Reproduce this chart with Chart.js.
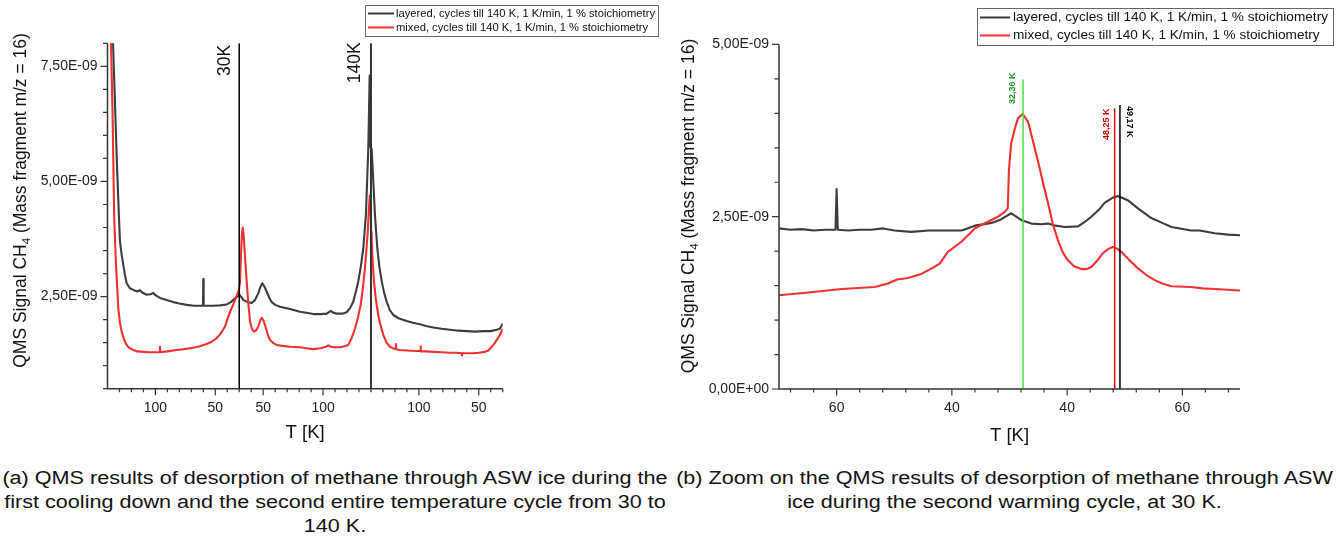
<!DOCTYPE html>
<html lang="en">
<head>
<meta charset="UTF-8" />
<title>QMS desorption of methane through ASW ice</title>
<script src="https://cdn.jsdelivr.net/npm/chart.js@4.4.1/dist/chart.umd.min.js"></script>
<style>
  body { margin: 0; background: #fff; width: 1337px; height: 539px; position: relative; overflow: hidden;
         font-family: "Liberation Sans", Arial, sans-serif; }
  #leftChart { position: absolute; left: 0; top: 0; }
  #rightChart { position: absolute; left: 670px; top: 0; }
  .caption { position: absolute; top: 466px; font-size: 18px; line-height: 24px; text-align: center; color: #111;
             transform: scaleX(1.2); transform-origin: center top; }
  #capA { left: 0; width: 670px; }
  #capB { left: 672px; width: 665px; }
</style>
</head>
<body>
<canvas id="leftChart" width="670" height="450"></canvas>
<canvas id="rightChart" width="667" height="450"></canvas>
<div class="caption" id="capA">(a) QMS results of desorption of methane through ASW ice during the<br>first cooling down and the second entire temperature cycle from 30 to<br>140 K.</div>
<div class="caption" id="capB">(b) Zoom on the QMS results of desorption of methane through ASW<br>ice during the second warming cycle, at 30 K.</div>

<script>
// x is the temperature path walked along the run (K travelled), y in units of 1E-09
const seriesNames = [
  "layered, cycles till 140 K, 1 K/min, 1 % stoichiometry",
  "mixed, cycles till 140 K, 1 K/min, 1 % stoichiometry",
];

// (a) cooling 140 -> 30 K, warming 30 -> 140 K, cooling 140 -> 30 K
const aLayeredX = [
  4, 6, 8, 9.6, 10.4, 12, 13.2, 14.5, 16, 18.8,
  22, 25, 27, 29, 32.7, 36, 38.2, 40, 43.8, 50,
  54.9, 60, 66.1, 72, 77, 79.7, 80, 80.3, 84, 88.3,
  94, 99.5, 103, 106, 108.5, 110, 111.5, 113.4, 117, 120.4,
  123, 125.9, 127.5, 129.3, 131, 132.9, 135, 137.1, 140, 144,
  152.4, 160.7, 166, 171.8, 178, 183, 186.4, 188.5, 191.4, 196,
  199.7, 202.5, 205.2, 207.5, 209.4, 211.5, 213.6, 215.8, 217.8, 218.9,
  219.6, 220.6, 223.4, 225.3, 227, 229, 231, 233.1, 235.5, 238.6,
  243, 249.8, 255, 260.9, 266, 272, 279, 286, 293, 300,
  307, 313.8, 320, 325, 327.5, 329.2, 330,
];
const aLayeredY = [
  8.5, 6.9, 5.3, 4.2, 3.7, 3.38, 3.19, 2.98, 2.79, 2.68,
  2.64, 2.61, 2.64, 2.59, 2.54, 2.55, 2.58, 2.53, 2.47, 2.42,
  2.38, 2.35, 2.32, 2.3, 2.3, 2.3, 2.88, 2.3, 2.3, 2.3,
  2.31, 2.33, 2.38, 2.45, 2.5, 2.55, 2.5, 2.43, 2.38, 2.36,
  2.42, 2.57, 2.7, 2.79, 2.72, 2.61, 2.48, 2.38, 2.32, 2.28,
  2.23, 2.17, 2.15, 2.12, 2.12, 2.13, 2.19, 2.15, 2.13, 2.13,
  2.16, 2.25, 2.39, 2.62, 2.83, 3.15, 3.55, 4.28, 5.75, 7.3,
  5.75, 5.7, 4.25, 3.55, 3.15, 2.83, 2.58, 2.39, 2.22, 2.1,
  2.03, 1.97, 1.93, 1.9, 1.86, 1.83, 1.8, 1.78, 1.76, 1.75,
  1.74, 1.75, 1.75, 1.78, 1.8, 1.87, 1.92,
];
const aMixedX = [
  2.5, 4.2, 5.6, 7.1, 9, 10.3, 11.8, 14, 16, 18.5,
  21.5, 25, 29.9, 35, 40, 43.5, 43.8, 44.1, 50, 57.8,
  64, 71.6, 77, 82.8, 87, 91.2, 94, 96, 98.1, 100.3,
  102.3, 104.5, 106.5, 108.3, 109.8, 110.6, 111.3, 112.2, 112.9, 113.8,
  115, 116.2, 117.6, 119, 120.6, 122.3, 124.2, 125.9, 127.5, 128.8,
  130.4, 132.4, 134, 135.7, 138.5, 141.3, 146, 152.4, 160.7, 166,
  171.8, 178, 182.5, 184.4, 186.5, 190, 194.1, 198, 201, 203,
  205, 206.7, 209, 211.4, 213.3, 215, 216.3, 217.3, 218.3, 219,
  219.8, 220.2, 220.6, 221.5, 222.5, 224.2, 226.1, 228, 230.3, 233,
  235.9, 239, 240.7, 240.9, 241.1, 244.2, 250, 258.2, 261.3, 261.5,
  261.7, 266, 272, 279, 286, 291, 295.8, 296, 296.2, 300,
  305.4, 310, 315.2, 318, 320.8, 323, 325, 327.5, 330,
];
const aMixedY = [
  8.5, 6.5, 4.2, 3.19, 2.25, 1.95, 1.74, 1.56, 1.45, 1.38,
  1.34, 1.31, 1.3, 1.29, 1.29, 1.29, 1.41, 1.29, 1.31, 1.34,
  1.36, 1.39, 1.42, 1.47, 1.52, 1.6, 1.68, 1.76, 1.85, 2.02,
  2.17, 2.3, 2.43, 2.55, 2.65, 2.8, 3.3, 3.85, 4.0, 3.8,
  3.3, 2.83, 2.35, 1.96, 1.8, 1.74, 1.77, 1.85, 1.98, 2.04,
  1.97, 1.81, 1.66, 1.56, 1.49, 1.45, 1.43, 1.41, 1.4, 1.38,
  1.36, 1.38, 1.41, 1.44, 1.41, 1.4, 1.4, 1.42, 1.45, 1.55,
  1.68, 1.81, 2.03, 2.32, 2.7, 3.12, 3.55, 3.91, 4.4, 4.7,
  4.4, 3.9, 3.7, 3.25, 2.83, 2.42, 2.1, 1.88, 1.67, 1.5,
  1.41, 1.37, 1.36, 1.47, 1.35, 1.34, 1.33, 1.32, 1.32, 1.42,
  1.31, 1.31, 1.3, 1.29, 1.28, 1.28, 1.27, 1.22, 1.27, 1.27,
  1.27, 1.28, 1.3, 1.33, 1.41, 1.48, 1.56, 1.66, 1.8,
];
const aTickX = [40, 90, 130, 180, 260, 310];
const aTickLabels = ["100", "50", "50", "100", "100", "50"];
const aTickY = [2.5, 5.0, 7.5];
const aMarkerX = [110, 220];
const aMarkerLabels = ["30K", "140K"];

// (b) cooling 70 -> 30 K then warming 30 -> 70 K
const bLayeredX = [
  0, 2, 4, 6, 8, 9.8, 10, 10.2, 12, 14,
  16, 18.1, 20, 23, 26, 29, 31.7, 34, 36.9, 38.5,
  40.3, 42.1, 43.8, 45.5, 46.7, 48, 49.6, 51.9, 53, 54.2,
  55.5, 56.5, 57.8, 58.8, 60.5, 62.3, 64.6, 66.5, 68.1, 71.5,
  73, 75.6, 78, 80,
];
const bLayeredY = [
  2.33, 2.31, 2.32, 2.3, 2.31, 2.31, 2.9, 2.31, 2.3, 2.31,
  2.31, 2.33, 2.3, 2.28, 2.3, 2.3, 2.3, 2.37, 2.41, 2.46,
  2.55, 2.45, 2.4, 2.39, 2.4, 2.37, 2.35, 2.36, 2.42, 2.5,
  2.6, 2.7, 2.77, 2.8, 2.74, 2.62, 2.48, 2.41, 2.35, 2.3,
  2.3, 2.26, 2.24, 2.23,
];
const bMixedX = [
  0, 5.1, 10.9, 16.6, 18.9, 20.5, 22.4, 24.7, 26.5, 27.9,
  29.3, 31.7, 34, 36.3, 38, 39.2, 39.7, 39.9, 40.3, 41,
  41.5, 42.3, 43.2, 44, 44.9, 45.8, 46.7, 47.5, 48.4, 49.2,
  50.1, 51.2, 52.5, 53.4, 54.2, 55.2, 56.2, 57.1, 57.9, 58.6,
  59.4, 60.8, 62.3, 63.8, 65.2, 66.5, 68.1, 71.5, 73.5, 75.6,
  80,
];
const bMixedY = [
  1.36, 1.4, 1.45, 1.48, 1.53, 1.59, 1.61, 1.67, 1.75, 1.82,
  1.99, 2.14, 2.33, 2.43, 2.5, 2.57, 2.62, 3.18, 3.57, 3.8,
  3.93, 3.99, 3.88, 3.62, 3.32, 3.0, 2.69, 2.4, 2.16, 1.99,
  1.87, 1.78, 1.74, 1.74, 1.77, 1.86, 1.97, 2.03, 2.06, 2.04,
  1.99, 1.87, 1.75, 1.65, 1.58, 1.53, 1.49, 1.48, 1.46, 1.45,
  1.43,
];
const bTickX = [10, 30, 50, 70];
const bTickLabels = ["60", "40", "40", "60"];
const bTickY = [0, 2.5, 5.0];
const bMarkerX = [42.36, 58.25, 59.17];
const bMarkerTop = [4.49, 4.07, 4.12];
const bMarkerLabels = ["32,36 K", "48,25 K", "49,17 K"];

const FONT = '"Liberation Sans", Arial, sans-serif';
const AXIS = "#333";
const GREY = "#3d3d3d";
const RED = "#ee3030";
Chart.defaults.font.family = FONT;
Chart.defaults.color = "#222";

function range(from, to, step) {
  const out = [];
  for (let v = from; v <= to + 1e-9; v += step) out.push(+v.toFixed(3));
  return out;
}
const fmtE = (v) => (v === 0 ? "0,00E+00" : v.toFixed(2).replace(".", ",") + "E-09");
const pts = (xs, ys) => xs.map((x, i) => ({ x: x, y: ys[i] }));

// axes, tick marks, titles, legend and marker labels in the Origin look
function originPlugin(o) {
  return {
    id: "origin_" + o.name,
    afterDraw(chart) {
      const ctx = chart.ctx;
      const xs = chart.scales.x, ys = chart.scales.y, a = chart.chartArea;
      ctx.save();
      ctx.strokeStyle = AXIS;
      ctx.lineWidth = 1.5;
      ctx.beginPath();
      ctx.moveTo(a.left, a.top);
      ctx.lineTo(a.left, a.bottom);
      ctx.lineTo(a.right, a.bottom);
      ctx.stroke();

      ctx.lineWidth = 1.2;
      ctx.beginPath();
      const tx = (list, len) => list.forEach((v) => {
        const p = xs.getPixelForValue(v);
        ctx.moveTo(p, a.bottom); ctx.lineTo(p, a.bottom + len);
      });
      const ty = (list, len) => list.forEach((v) => {
        const p = ys.getPixelForValue(v);
        ctx.moveTo(a.left, p); ctx.lineTo(a.left - len, p);
      });
      tx(o.xMinor, 3.5); tx(o.xMajor, 6.5);
      ty(o.yMinor, 4.5); ty(o.yMajor, 7);
      ctx.stroke();

      // y title with subscript 4
      ctx.save();
      ctx.translate(o.yTitle[0], o.yTitle[1]);
      ctx.rotate(-Math.PI / 2);
      ctx.fillStyle = "#111";
      ctx.textAlign = "left";
      ctx.textBaseline = "alphabetic";
      const big = "17.5px " + FONT, small = "11.5px " + FONT;
      const p1 = "QMS Signal CH", p2 = "4", p3 = " (Mass fragment m/z = 16)";
      ctx.font = big;
      const w1 = ctx.measureText(p1).width, w3 = ctx.measureText(p3).width;
      ctx.font = small;
      const w2 = ctx.measureText(p2).width;
      const sx = -(w1 + w2 + w3) / 2;
      ctx.font = big; ctx.fillText(p1, sx, 6);
      ctx.font = small; ctx.fillText(p2, sx + w1, 10);
      ctx.font = big; ctx.fillText(p3, sx + w1 + w2, 6);
      ctx.restore();

      // x title
      ctx.fillStyle = "#111";
      ctx.font = "18.5px " + FONT;
      ctx.textAlign = "center";
      ctx.textBaseline = "middle";
      ctx.fillText("T [K]", (a.left + a.right) / 2, o.xTitleY);

      // legend box, text stretched a little wider like the narrow-looking original
      const L = o.legend;
      ctx.fillStyle = "#fff";
      ctx.fillRect(L.x, L.y, L.w, L.h);
      ctx.strokeStyle = "#666";
      ctx.lineWidth = 1;
      ctx.strokeRect(L.x + 0.5, L.y + 0.5, L.w, L.h);
      const items = chart.data.datasets.filter((d) => d.inLegend);
      ctx.font = L.font;
      const k = L.textW / ctx.measureText(items[0].label).width;
      items.forEach((d, i) => {
        const yy = L.rows[i];
        ctx.strokeStyle = d.borderColor;
        ctx.lineWidth = 2;
        ctx.beginPath();
        ctx.moveTo(L.l0, yy); ctx.lineTo(L.l1, yy);
        ctx.stroke();
        ctx.save();
        ctx.translate(L.tx, yy + 0.5);
        ctx.scale(k, 1);
        ctx.fillStyle = "#111";
        ctx.textAlign = "left";
        ctx.textBaseline = "middle";
        ctx.fillText(d.label, 0, 0);
        ctx.restore();
      });

      // marker labels
      o.markers.forEach((m) => {
        ctx.save();
        ctx.translate(xs.getPixelForValue(m.x) + m.dx, ys.getPixelForValue(m.top) + m.dy);
        ctx.rotate(m.rot * Math.PI / 2);
        ctx.fillStyle = m.color;
        ctx.font = m.font;
        ctx.textAlign = m.rot < 0 ? "right" : "left";
        ctx.textBaseline = "middle";
        ctx.fillText(m.text, 0, 0);
        ctx.restore();
      });
      ctx.restore();
    },
  };
}

function series(label, xs, ys, color, order) {
  return { label: label, data: pts(xs, ys), borderColor: color, borderWidth: 2.1,
           pointRadius: 0, order: order, inLegend: true };
}
function marker(x, y0, y1, color, width) {
  return { label: "", data: [{ x: x, y: y0 }, { x: x, y: y1 }], borderColor: color,
           borderWidth: width, pointRadius: 0, order: 0, inLegend: false };
}

function axes(xMin, xMax, xTicks, xLabels, yMin, yMax, yTicks, yWidth, xHeight) {
  return {
    x: {
      type: "linear", min: xMin, max: xMax,
      grid: { display: false, drawTicks: false }, border: { display: false },
      afterBuildTicks: (s) => { s.ticks = xTicks.map((v) => ({ value: v })); },
      afterFit: (s) => { s.height = xHeight; },
      ticks: { autoSkip: false, maxRotation: 0, padding: 11, font: { size: 14 },
               callback: (v) => xLabels[xTicks.indexOf(v)] },
    },
    y: {
      type: "linear", min: yMin, max: yMax,
      grid: { display: false, drawTicks: false }, border: { display: false },
      afterBuildTicks: (s) => { s.ticks = yTicks.map((v) => ({ value: v })); },
      afterFit: (s) => { s.width = yWidth; },
      ticks: { autoSkip: false, padding: 10, font: { size: 14 }, callback: (v) => fmtE(v) },
    },
  };
}

const baseOptions = {
  responsive: false,
  animation: false,
  elements: { line: { tension: 0, borderJoinStyle: "round" } },
  plugins: { legend: { display: false }, tooltip: { enabled: false } },
};

new Chart(document.getElementById("leftChart"), {
  type: "line",
  data: {
    datasets: [
      series(seriesNames[0], aLayeredX, aLayeredY, GREY, 2),
      series(seriesNames[1], aMixedX, aMixedY, RED, 1),
      marker(aMarkerX[0], 0.5, 8, "#000", 1.5),
      marker(aMarkerX[1], 0.5, 8, "#333", 2),
    ],
  },
  options: Object.assign({}, baseOptions, {
    layout: { padding: { top: 43.3, right: 167.3, bottom: 0, left: 0 } },
    scales: axes(0, 330, aTickX, aTickLabels, 0.5, 8, aTickY, 107.5, 61.3),
  }),
  plugins: [originPlugin({
    name: "a",
    xMajor: aTickX, xMinor: range(10, 330, 10),
    yMajor: aTickY, yMinor: range(0.5, 8, 0.5),
    yTitle: [20, 200.5], xTitleY: 433,
    legend: { x: 365, y: 5, w: 293, h: 31, rows: [13.5, 27.5], l0: 368, l1: 394, tx: 396,
              font: "10.5px " + FONT, textW: 259 },
    markers: [
      { x: aMarkerX[0], top: 8, text: aMarkerLabels[0], dx: -14, dy: 1.5, rot: -1, color: "#111", font: "17.5px " + FONT },
      { x: aMarkerX[1], top: 8, text: aMarkerLabels[1], dx: -15.5, dy: -1, rot: -1, color: "#111", font: "17.5px " + FONT },
    ],
  })],
});

new Chart(document.getElementById("rightChart"), {
  type: "line",
  data: {
    datasets: [
      series(seriesNames[0], bLayeredX, bLayeredY, GREY, 2),
      series(seriesNames[1], bMixedX, bMixedY, RED, 1),
      marker(bMarkerX[0], 0, bMarkerTop[0], "#44e044", 1.5),
      marker(bMarkerX[1], 0, bMarkerTop[1], "#e00000", 1.5),
      marker(bMarkerX[2], 0, bMarkerTop[2], "#000", 1.5),
    ],
  },
  options: Object.assign({}, baseOptions, {
    layout: { padding: { top: 44.4, right: 97, bottom: 0, left: 0 } },
    scales: axes(0, 80, bTickX, bTickLabels, 0, 5, bTickY, 109, 61),
  }),
  plugins: [originPlugin({
    name: "b",
    xMajor: bTickX, xMinor: range(2, 78, 4).filter((v) => bTickX.indexOf(v) < 0),
    yMajor: bTickY, yMinor: range(0.5, 4.5, 0.5),
    yTitle: [18, 206], xTitleY: 436,
    legend: { x: 307, y: 8, w: 356, h: 37, rows: [17.5, 35.5], l0: 310, l1: 340, tx: 343,
              font: "12.5px " + FONT, textW: 315 },
    markers: [
      { x: bMarkerX[0], top: bMarkerTop[0], text: bMarkerLabels[0], dx: -11, dy: -7, rot: -1, color: "#1f8f1f", font: "bold 9px " + FONT },
      { x: bMarkerX[1], top: bMarkerTop[1], text: bMarkerLabels[1], dx: -8, dy: 0, rot: -1, color: "#e00000", font: "bold 9px " + FONT },
      { x: bMarkerX[2], top: bMarkerTop[2], text: bMarkerLabels[2], dx: 10, dy: 1, rot: 1, color: "#000", font: "bold 9px " + FONT },
    ],
  })],
});
</script>
</body>
</html>
